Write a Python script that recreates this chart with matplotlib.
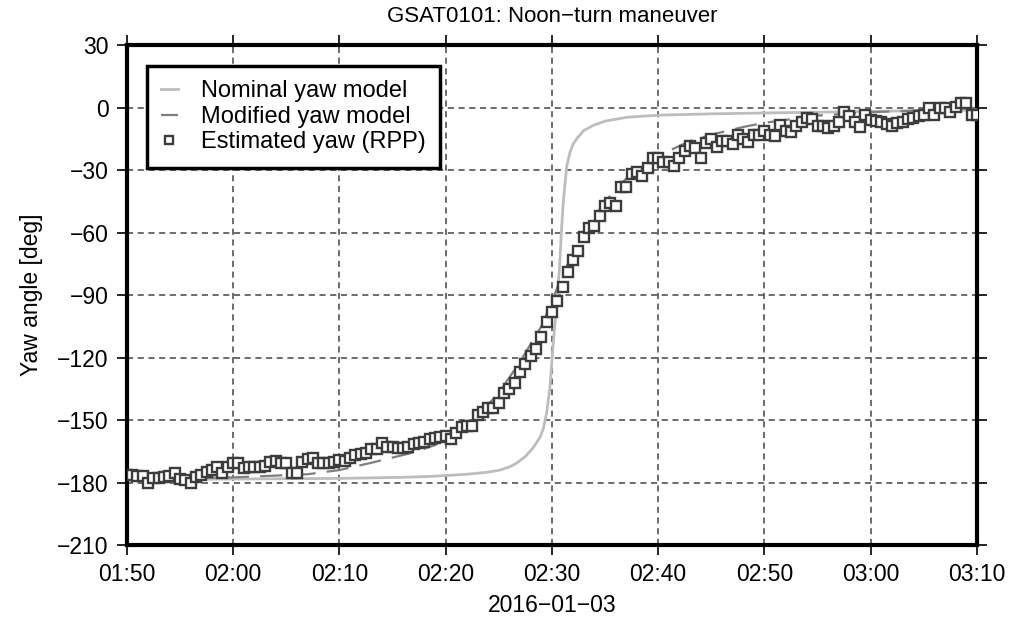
import numpy as np
import pandas as pd
import matplotlib
matplotlib.use("Agg")
import matplotlib.pyplot as plt
import matplotlib.dates as mdates

# ---------------- data ----------------
start = pd.Timestamp("2016-01-03 01:50:00")
end = pd.Timestamp("2016-01-03 03:10:00")

# Estimated yaw (RPP), one sample every 30 s from 01:50 to 03:10
est_yaw = [
    -176.5, -176.5, -177, -177, -180, -178, -178, -177.5, -177, -175.5,
    -178.5, -179, -180, -177.5, -176.5, -175, -174, -172.5, -175.5, -172.5,
    -170.5, -170.5, -173, -172.5, -172.5, -172.5, -172, -170, -169.5, -170.5,
    -170.5, -175.5, -175.5, -170, -168.5, -168, -170.5, -170.5, -170.5, -170,
    -169, -169.5, -168, -167, -166.5, -166, -164, -164, -161, -163,
    -163, -163.5, -163.5, -163, -161.5, -161, -160.5, -159, -158.5, -158,
    -157.5, -159, -156, -153.5, -153, -153, -147.5, -146, -144, -144,
    -142, -137, -135, -132, -127, -123, -119, -116, -110, -103,
    -98, -93, -86, -79, -73, -69, -62, -58, -57, -52,
    -47, -46, -47, -38, -38, -32, -31, -33, -29, -24,
    -24, -26, -26, -28, -24, -21, -18.5, -19.5, -24, -17,
    -15, -19, -16, -16, -17.5, -13, -15, -16.5, -13, -13,
    -11, -13, -13.5, -8.5, -11, -11.5, -9, -7, -5, -5.5,
    -9, -9, -10, -9, -7, -2, -4, -7, -9.5, -3.5,
    -6, -6.5, -7, -8, -9, -7.5, -7, -5.5, -5, -4,
    -3.5, 0, -3.5, 0, 0, -2, 0.5, 2, 2, -3.5,
    -3.5,
]
est_time = start + pd.to_timedelta(np.arange(len(est_yaw)) * 30, unit="s")

# Nominal yaw model: (minutes after 01:50, yaw deg)
nom_min = [0, 10, 20, 25.7, 28.8, 32, 34, 35.1, 36, 36.7, 37.5, 38.2, 38.6, 38.9,
           39.2, 39.5, 39.8, 40.1, 40.3, 40.5, 40.7, 40.9, 41.05, 41.2, 41.4, 41.7,
           42.0, 42.4, 43.0, 43.9, 45.0, 47.1, 50.2, 55, 59.6, 65, 70, 75, 80]
nom_yaw = [-178.5, -178.3, -178, -177.5, -177, -176, -175, -174, -172.5, -170.6,
           -167.5, -163.5, -160.5, -158, -154, -146.6, -135, -115, -103, -91,
           -78, -59, -47, -38, -28, -21.5, -17.5, -14.5, -11, -8.5,
           -6.5, -4.6, -3.6, -3, -2.6, -2.2, -1.8, -1.5, -1.2]

# Modified yaw model: (minutes after 01:50, yaw deg)
mod_min = [0, 10, 17, 20, 23, 25, 27, 29, 31, 33, 35, 37, 39, 40, 41, 43, 45,
           47, 49, 50.5, 53, 55, 58, 60, 65, 70, 75, 80]
mod_yaw = [-178.5, -177.5, -176, -174, -170.5, -168, -165.5, -162, -156, -148,
           -137, -122, -105, -93, -80, -60, -45, -34, -27, -22, -16, -13,
           -9.3, -7.3, -3.8, -2.2, -1.3, -0.8]

nom_time = start + pd.to_timedelta(nom_min, unit="m")
mod_time = start + pd.to_timedelta(mod_min, unit="m")

y_ticks = [-210, -180, -150, -120, -90, -60, -30, 0, 30]

# ---------------- plot ----------------
plt.rcParams["font.family"] = ["Liberation Sans", "DejaVu Sans"]
plt.rcParams["axes.unicode_minus"] = True

fig = plt.figure(figsize=(10.23, 6.18), dpi=100)
ax = fig.add_axes([0.124, 0.118, 0.831, 0.809])

ax.plot(nom_time, nom_yaw, color="#bdbdbd", lw=2.0, zorder=3,
        label="Nominal yaw model")
ax.plot(mod_time, mod_yaw, color="#7f7f7f", lw=1.6, dashes=(10, 5), zorder=3,
        label="Modified yaw model")
ax.plot(est_time, est_yaw, ls="none", marker="s", ms=7.2, mfc="white",
        mec="#3c3c3c", mew=1.7, zorder=4, label="Estimated yaw (RPP)")

ax.set_xlim(start, end)
ax.set_ylim(-210, 30)
ax.set_yticks(y_ticks)
ax.xaxis.set_major_locator(mdates.MinuteLocator(byminute=range(0, 60, 10)))
ax.xaxis.set_major_formatter(mdates.DateFormatter("%H:%M"))

ax.grid(True, color="#444444", ls=(0, (4, 3)), lw=1.1)
ax.set_axisbelow(True)

for s in ax.spines.values():
    s.set_linewidth(3)
ax.tick_params(axis="both", which="major", direction="out", length=7, width=1.2,
               labelsize=16.5, top=True, right=True, pad=6)

ax.set_title("GSAT0101: Noon\u2212turn maneuver", fontsize=16, pad=17)
ax.set_ylabel("Yaw angle [deg]", fontsize=16.5, labelpad=10)
ax.set_xlabel("2016\u221201\u221203", fontsize=16.5, labelpad=6)

leg = ax.legend(loc="upper left", bbox_to_anchor=(0.0235, 0.958), fontsize=17,
                frameon=True, fancybox=False, handlelength=0.7, handletextpad=1.0,
                borderpad=0.6, labelspacing=0.15, borderaxespad=0)
leg.get_frame().set_edgecolor("black")
leg.get_frame().set_linewidth(2.5)
leg.get_frame().set_alpha(1)
for h in leg.legend_handles:
    if hasattr(h, "set_markersize"):
        h.set_markersize(6)

fig.savefig("out.png", dpi=100)
